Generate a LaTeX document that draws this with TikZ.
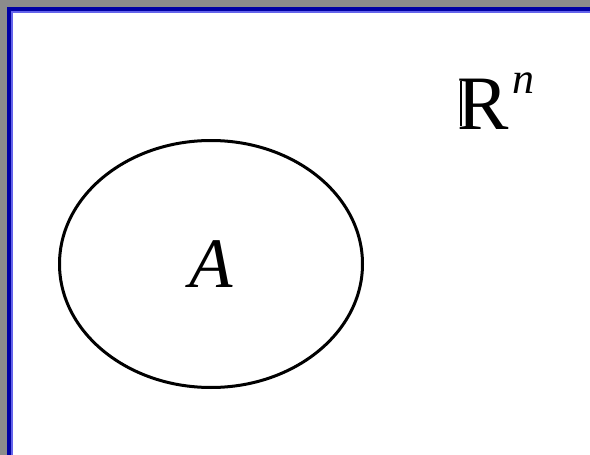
\documentclass[tikz,border=0pt]{standalone}
\usepackage{fontspec}
\setmainfont{Liberation Serif}
\usetikzlibrary{shapes.geometric}

\definecolor{slidegray}{RGB}{140,140,140}
\definecolor{frameblue}{RGB}{0,0,165}
\definecolor{framelight}{RGB}{100,100,235}

% double-struck R in the slide's style
\newcommand{\dsR}{\rlap{\hspace{2.4pt}\rule[2.6pt]{2.5pt}{45pt}}R}

\begin{document}
\begin{tikzpicture}[
        x=1pt, y=-1pt,
        % the set drawn as an ellipse
        setnode/.style={ellipse, draw, line width=3pt, minimum width=303pt, minimum height=247pt, inner sep=0pt, font=\fontsize{71}{71}\selectfont\itshape},
        spacelabel/.style={anchor=base west, inner sep=0pt, font=\fontsize{77}{77}\selectfont}
    ]

    % Rahmen (slide frame)
    \fill[slidegray] (0,0) rectangle (590,455);
    \fill[frameblue] (7,7) rectangle (590,455);
    \fill[framelight] (11,11) rectangle (590,455);
    \fill[white] (12.5,12.5) rectangle (590,455);
    \useasboundingbox (0,0) rectangle (590,455);

    % Nodes
    \node (setA) [setnode] at (211,264) {A};

    \node (space) [spacelabel] at (457,129) {\dsR\hspace{4pt}\raisebox{36pt}{\fontsize{44}{44}\selectfont\itshape n}};

\end{tikzpicture}
\end{document}
